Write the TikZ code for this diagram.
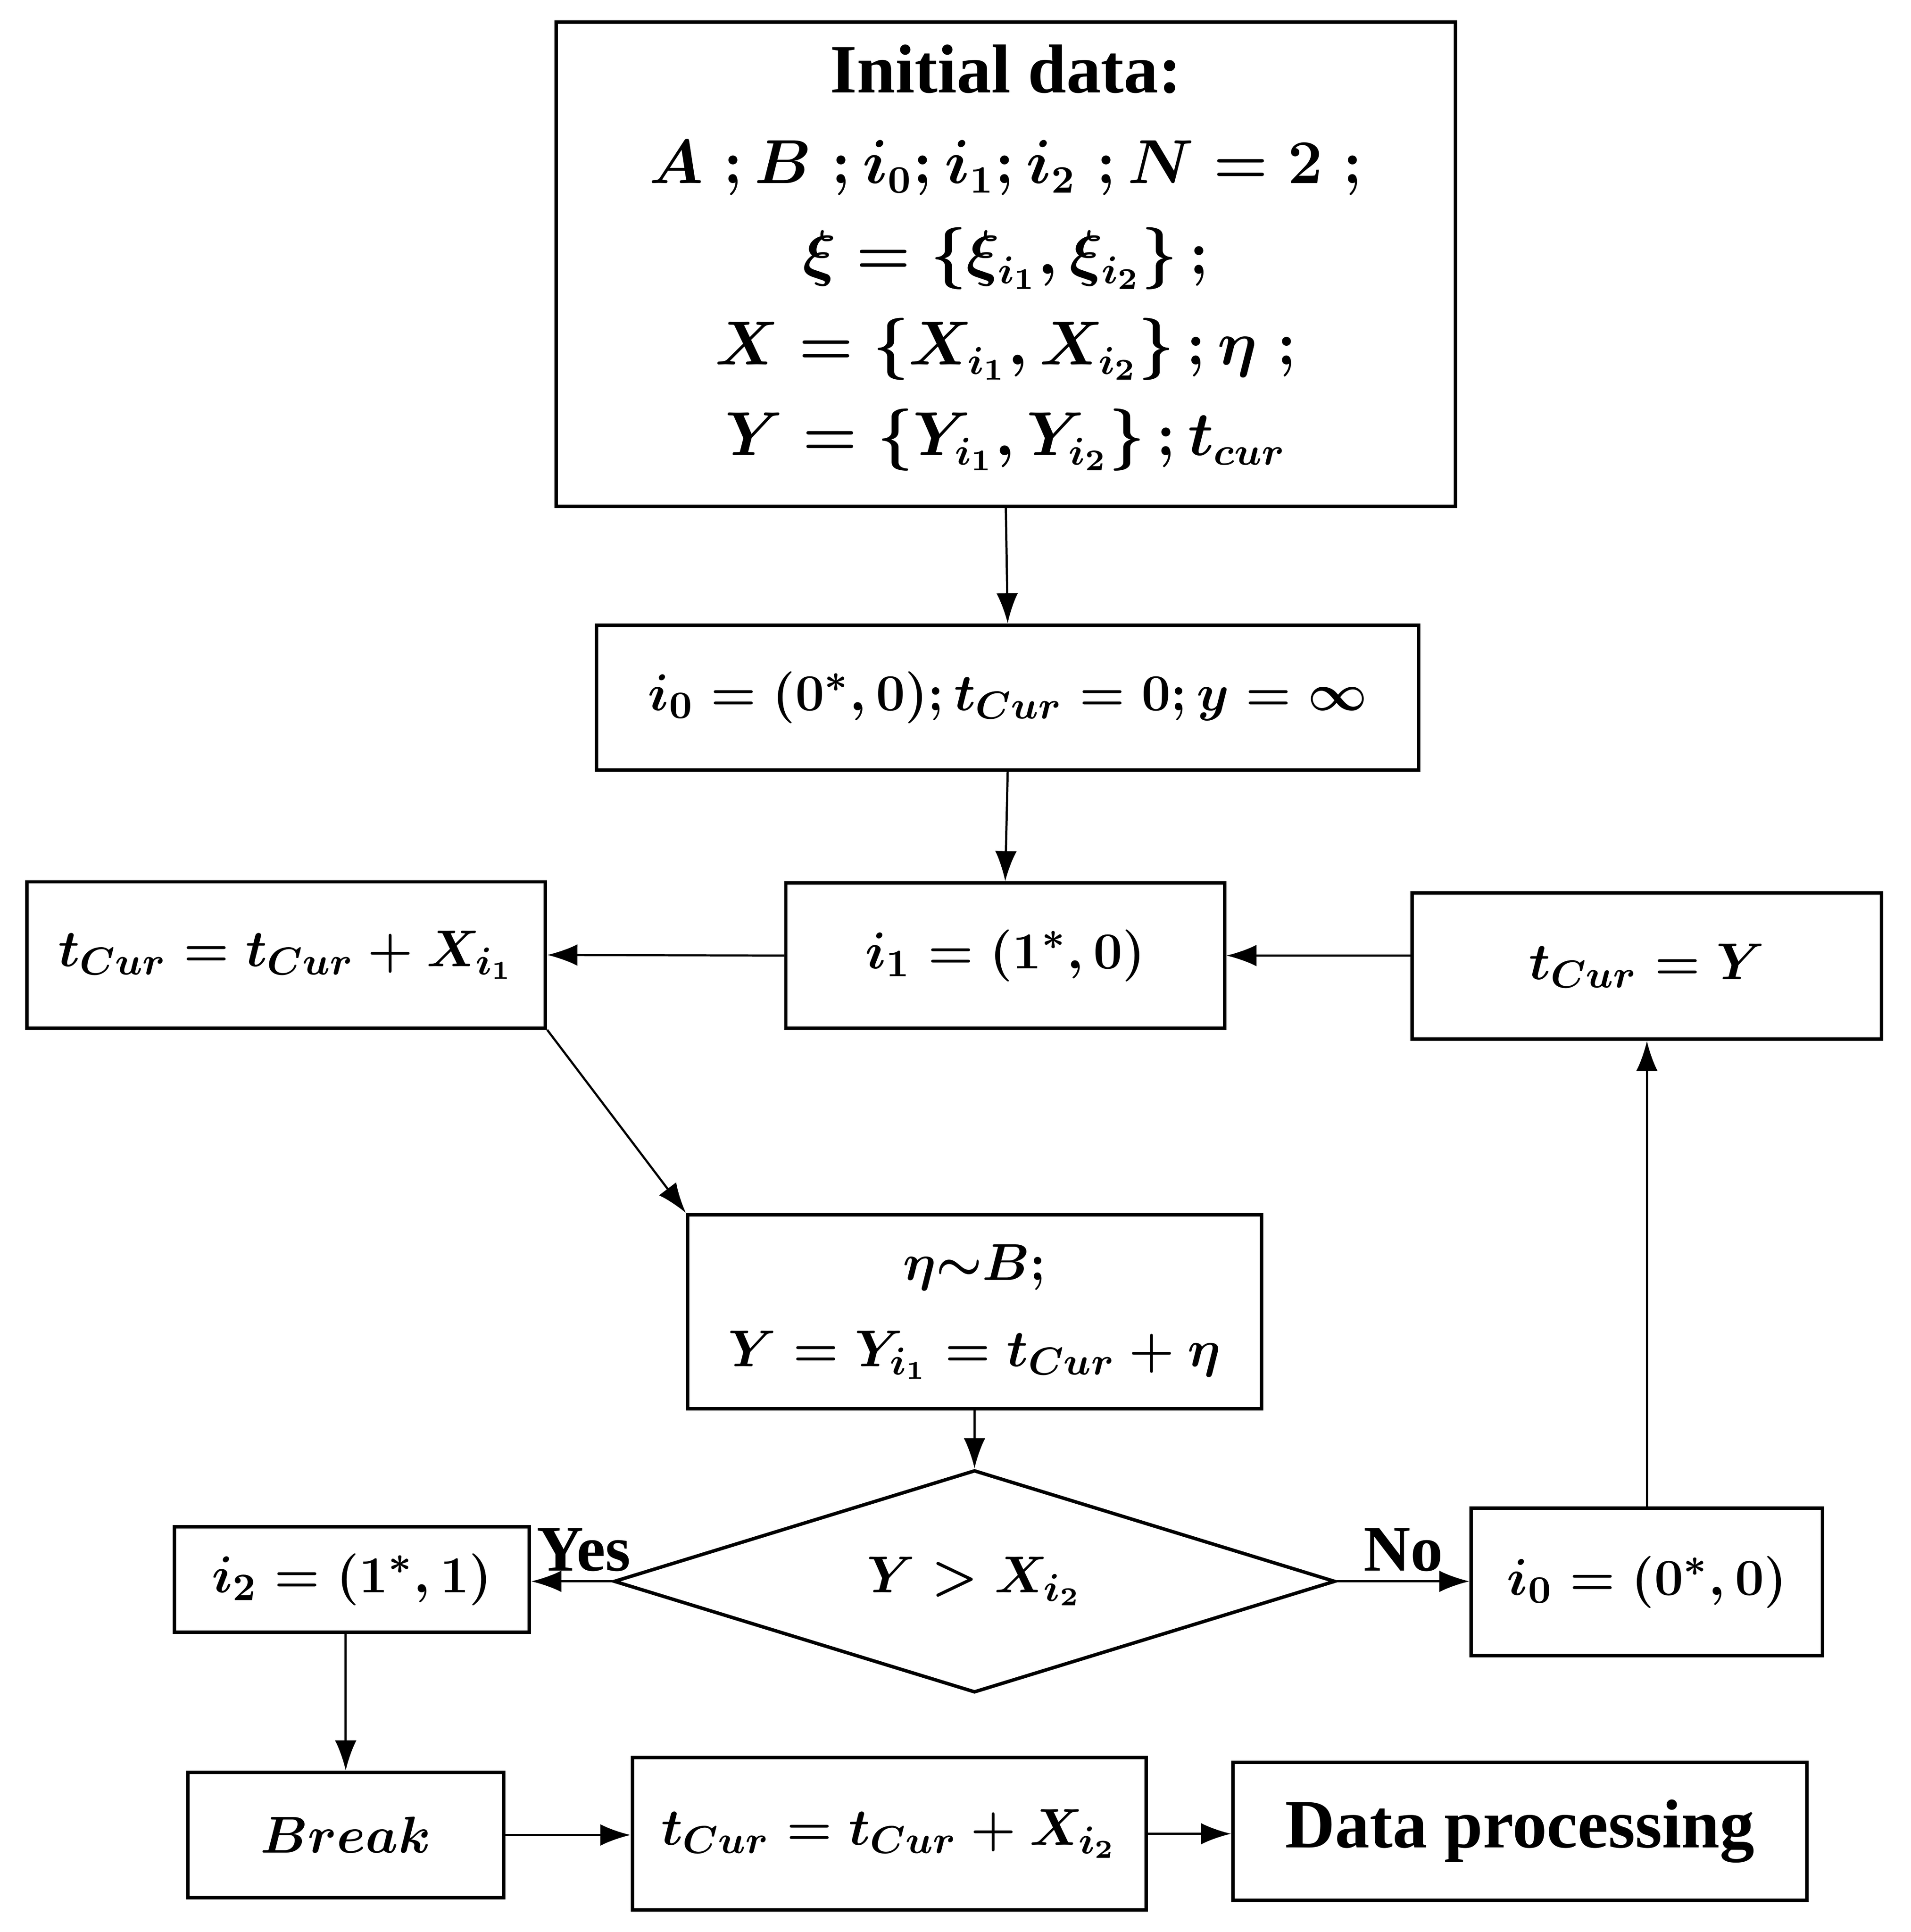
\documentclass[tikz,border=0pt]{standalone}
\usepackage{amsmath,amssymb,bm}
\usepackage{fontspec}
\setmainfont{Liberation Serif}
\usetikzlibrary{arrows.meta,shapes.geometric}
\begin{document}
\begin{tikzpicture}[x=0.01cm,y=-0.01cm,
  box/.style={draw,line width=0.8pt,inner sep=0pt},
  arr/.style={-{Latex[length=7pt,width=5pt]},line width=0.5pt},
  tx/.style={font=\fontsize{13}{20}\selectfont\bfseries\boldmath,align=center}]
\useasboundingbox (0,0) rectangle (1556,1573);
\node[box,minimum width=7.32cm,minimum height=3.94cm] (init) at (819,215) {};
\node[font=\fontsize{13.5}{21}\selectfont\bfseries\boldmath,align=center] at (819,210) {{\fontsize{16}{21}\selectfont Initial data:}\\ $A\;;B\;;i_0;i_1;i_2\;;N=2\;;$\\ $\xi=\left\{\xi_{i_1},\xi_{i_2}\right\};$\\ $X=\left\{X_{i_1},X_{i_2}\right\};\eta\;;$\\ $Y=\left\{Y_{i_1},Y_{i_2}\right\};t_{cur}$};
\node[box,minimum width=6.69cm,minimum height=1.18cm,tx] (b2) at (820.5,568) {$i_0=(0^*,0);t_{Cur}=0;y=\infty$};
\node[box,minimum width=3.57cm,minimum height=1.18cm,tx] (i1) at (818.5,778) {$i_1=(1^*,0)$};
\node[box,minimum width=4.22cm,minimum height=1.19cm,tx] (tl) at (233,777.5) {$t_{Cur}=t_{Cur}+X_{i_1}$};
\node[box,minimum width=3.82cm,minimum height=1.19cm,tx] (ty) at (1341,786.5) {$t_{Cur}=Y$};
\node[box,minimum width=4.67cm,minimum height=1.58cm,tx] (eta) at (793.5,1068) {$\eta{\sim}B;$\\ $Y=Y_{i_1}=t_{Cur}+\eta$};
\node[draw,line width=0.8pt,diamond,inner sep=0pt,minimum width=5.87cm,minimum height=1.81cm] (d) at (793.5,1287.5) {};
\node[tx] at (793.5,1287.5) {$Y>X_{i_2}$};
\node[box,minimum width=2.89cm,minimum height=0.86cm,tx] (i2) at (286.5,1286) {$i_2=(1^*,1)$};
\node[box,minimum width=2.86cm,minimum height=1.2cm,tx] (i0) at (1341,1288) {$i_0=(0^*,0)$};
\node[box,minimum width=2.57cm,minimum height=1.02cm,tx] (br) at (281.5,1494) {$\bm{Break}$};
\node[box,minimum width=4.18cm,minimum height=1.24cm,tx] (t2) at (724,1493) {$t_{Cur}=t_{Cur}+X_{i_2}$};
\node[box,minimum width=4.67cm,minimum height=1.12cm,font=\fontsize{16}{22}\selectfont\bfseries] (dp) at (1237.5,1491) {Data processing};
\draw[arr] (init.south) -- (b2.north);
\draw[arr] (b2.south) -- (i1.north);
\draw[arr] (i1.west) -- (tl.east);
\draw[arr] (ty.west|-i1.east) -- (i1.east);
\draw[arr] (tl.south east) -- (eta.north west);
\draw[arr] (eta.south-|d.north) -- (d.north);
\draw[arr] (d.west) -- node[above,pos=0.35,font=\fontsize{15}{20}\selectfont\bfseries,inner sep=2pt] {Yes} (d.west-|i2.east);
\draw[arr] (d.east) -- node[above,pos=0.5,font=\fontsize{15}{20}\selectfont\bfseries,inner sep=2pt] {No} (d.east-|i0.west);
\draw[arr] (i0.north) -- (ty.south);
\draw[arr] (i2.south-|br.north) -- (br.north);
\draw[arr] (br.east) -- (br.east-|t2.west);
\draw[arr] (t2.east) -- (t2.east-|dp.west);
\end{tikzpicture}
\end{document}
